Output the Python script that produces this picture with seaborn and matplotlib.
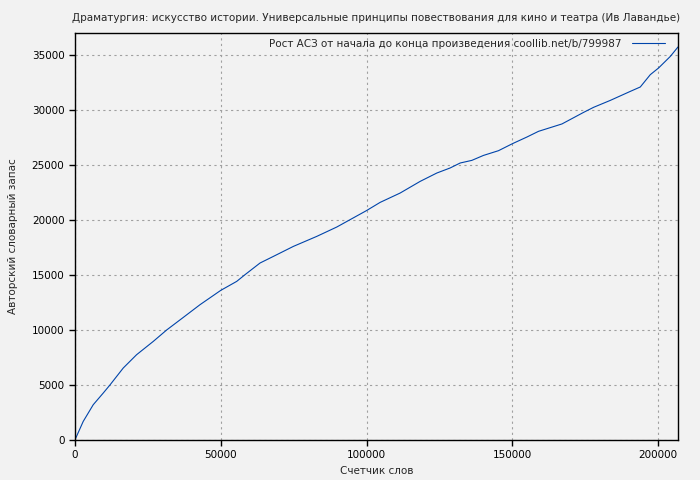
import pandas as pd
import matplotlib
matplotlib.use("Agg")
import matplotlib.pyplot as plt
import seaborn as sns

# Word counter vs. author's vocabulary
words = [0, 2850, 6290, 9720, 12010, 16580, 21160, 26880, 31460, 37170,
         42900, 50000, 55490, 58340, 63490, 68060, 74920, 82940, 89800, 94370,
         99970, 104670, 111530, 118400, 124120, 128690, 132120, 136130, 140110, 145260,
         150070, 155000, 158990, 167020, 174430, 177860, 183590, 190460, 193890, 197320,
         200170, 204190, 206830]
vocab = [0, 1690, 3210, 4270, 5000, 6545, 7755, 8965, 10000, 11145,
         12300, 13600, 14420, 15030, 16090, 16690, 17600, 18510, 19360, 20030,
         20850, 21600, 22450, 23510, 24270, 24730, 25180, 25420, 25870, 26300,
         26940, 27540, 28060, 28730, 29780, 30240, 30870, 31690, 32090, 33210,
         33820, 34870, 35730]

title = "Драматургия: искусство истории. Универсальные принципы повествования для кино и театра (Ив Лавандье)"
series_name = "Рост АСЗ от начала до конца произведения coollib.net/b/799987"
x_ticks = [0, 50000, 100000, 150000, 200000]
y_ticks = [0, 5000, 10000, 15000, 20000, 25000, 30000, 35000]

df = pd.DataFrame({"words": words, "vocab": vocab})

bg = "#f2f2f2"
sns.set_style("ticks", {"axes.facecolor": bg, "figure.facecolor": bg})
plt.rcParams["font.family"] = ["DejaVu Sans"]
fs = 7.5

fig = plt.figure(figsize=(7, 4.8), dpi=100)
ax = fig.add_axes([0.107, 0.0833, 0.8616, 0.848])

sns.lineplot(data=df, x="words", y="vocab", color="#0044aa", linewidth=0.8,
             label=series_name, ax=ax)

ax.set_xlim(0, 206830)
ax.set_ylim(0, 37000)
ax.set_xticks(x_ticks)
ax.set_yticks(y_ticks)
ax.grid(True, color="#a0a0a0", linestyle=(0, (2, 3)), linewidth=0.8)
for s in ax.spines.values():
    s.set_color("black")
    s.set_linewidth(1)
ax.tick_params(direction="out", length=4, width=1, labelsize=fs, colors="black")

ax.set_title(title, fontsize=fs, pad=9)
ax.set_xlabel("Счетчик слов", fontsize=fs, labelpad=4)
ax.set_ylabel("Авторский словарный запас", fontsize=fs, labelpad=10)

leg = ax.legend(loc="upper right", bbox_to_anchor=(1.0, 1.017), frameon=False,
                fontsize=fs, handlelength=3.2, handletextpad=1.0,
                borderaxespad=0.85, borderpad=0.4, markerfirst=False)

fig.savefig("out.png", dpi=100, facecolor=bg)
